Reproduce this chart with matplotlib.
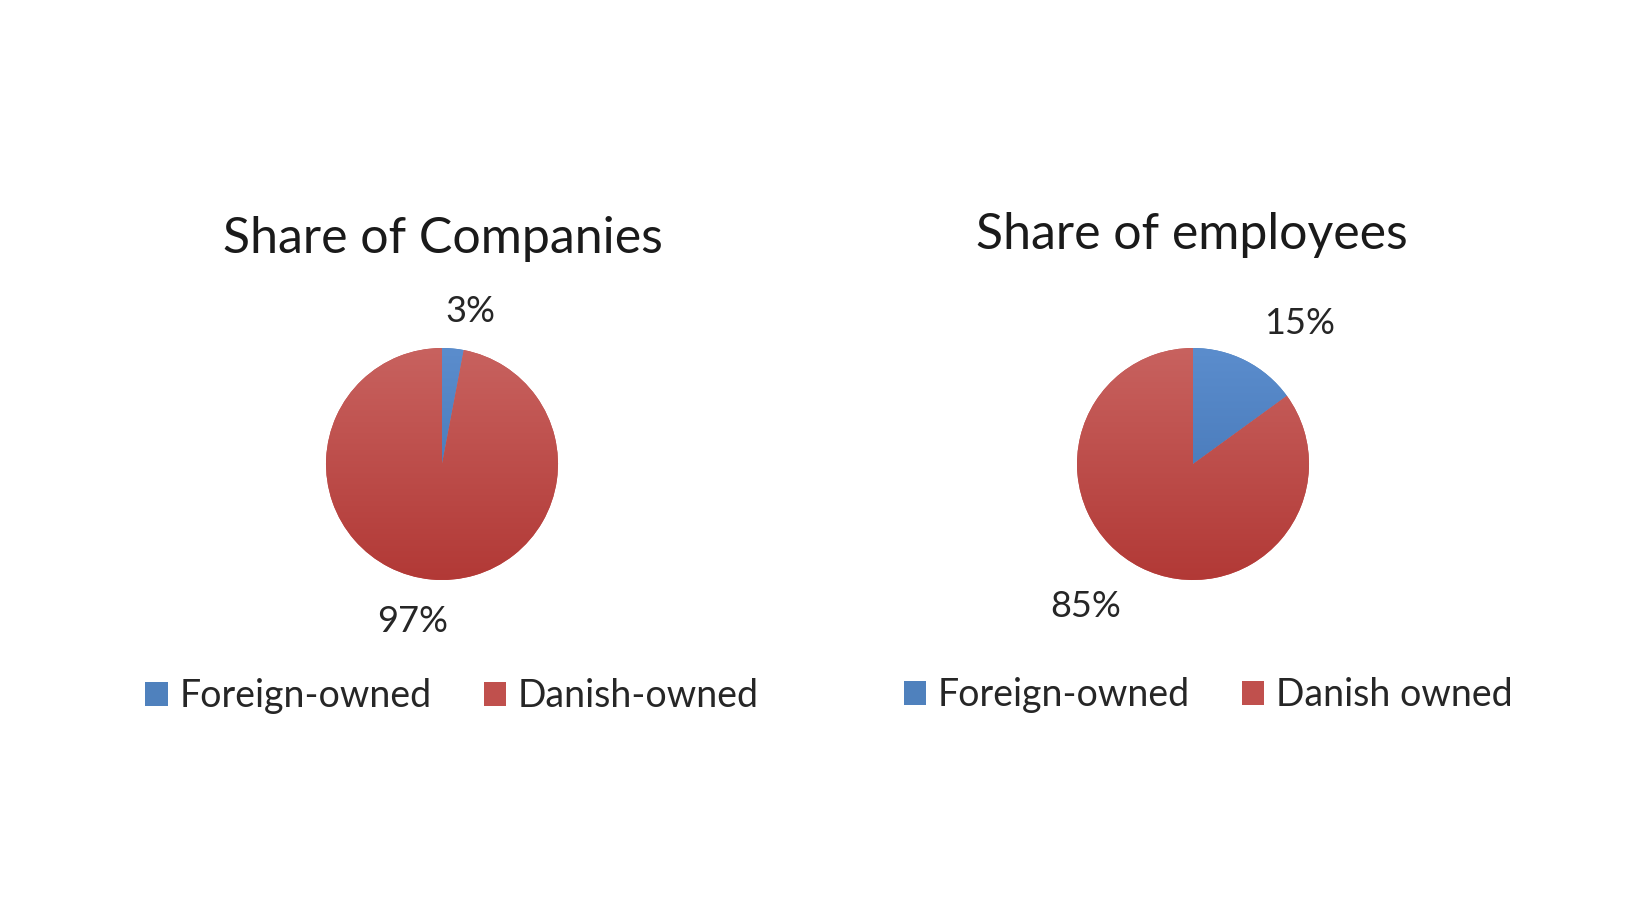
import matplotlib.pyplot as plt
import numpy as np
from matplotlib.patches import Patch

plt.rcParams['font.family'] = ['Lato', 'DejaVu Sans']

# data
titles = ["Share of Companies", "Share of employees"]
shares_companies = [3, 97]
shares_employees = [15, 85]
legend_companies = ["Foreign-owned", "Danish-owned"]
legend_employees = ["Foreign-owned", "Danish owned"]

blue = "#4F81BD"
red = "#C0504D"
# top / bottom colours for the vertical shading
grad = {blue: ("#5B8DCD", "#3D6EAE"), red: ("#C8625F", "#B23936")}

W, H = 1640, 924
fig = plt.figure(figsize=(W / 100, H / 100), dpi=100)

R = 116  # pie radius in px
lim = 1.7


def gradient_fill(ax, wedge, c_top, c_bot):
    top = np.array(plt.matplotlib.colors.to_rgb(c_top))
    bot = np.array(plt.matplotlib.colors.to_rgb(c_bot))
    t = np.linspace(0, 1, 256)[:, None]
    img = (top * (1 - t) + bot * t)[:, None, :]
    im = ax.imshow(img, extent=(-1, 1, -1, 1), aspect='auto', zorder=2,
                   interpolation='bilinear')
    im.set_clip_path(wedge)


def draw_pie(cx, cy, values, title, labels, lab_dist, lab_rot, title_xy, leg_xy):
    side = 2 * lim * R
    ax = fig.add_axes([(cx - side / 2) / W, (H - cy - side / 2) / H, side / W, side / H])
    cols = [blue, red]
    wedges, texts = ax.pie(values, colors=cols, startangle=90, counterclock=False,
                           labels=[f"{v}%" for v in values], labeldistance=1.0,
                           wedgeprops=dict(linewidth=0))
    for w, c in zip(wedges, cols):
        gradient_fill(ax, w, *grad[c])
    for w, tx, d, rot in zip(wedges, texts, lab_dist, lab_rot):
        ang = np.deg2rad((w.theta1 + w.theta2) / 2 + rot)
        tx.set_position((d * np.cos(ang), d * np.sin(ang)))
        tx.set_ha('center')
        tx.set_va('center')
        tx.set_fontsize(26)
        tx.set_color('#262626')
    ax.set_xlim(-lim, lim)
    ax.set_ylim(-lim, lim)
    ax.set_aspect('equal')
    ax.axis('off')

    fig.text(title_xy[0] / W, 1 - title_xy[1] / H, title, ha='center', va='center',
             fontsize=36, color='#1a1a1a')
    handles = [Patch(facecolor=c, edgecolor='none') for c in cols]
    fig.legend(handles, labels, loc='center', bbox_to_anchor=(leg_xy[0] / W, 1 - leg_xy[1] / H),
               ncol=2, frameon=False, fontsize=27, handlelength=0.6, handleheight=0.6,
               handletextpad=0.3, columnspacing=1.4, labelcolor='#262626')


draw_pie(442, 464, shares_companies, titles[0], legend_companies,
         lab_dist=[1.34, 1.38], lab_rot=[-5, -5], title_xy=(443, 239), leg_xy=(452, 696))
draw_pie(1193, 464, shares_employees, titles[1], legend_employees,
         lab_dist=[1.52, 1.54], lab_rot=[-10, -10], title_xy=(1192, 235), leg_xy=(1208, 695))

fig.savefig("out.png", dpi=100, facecolor='white')
